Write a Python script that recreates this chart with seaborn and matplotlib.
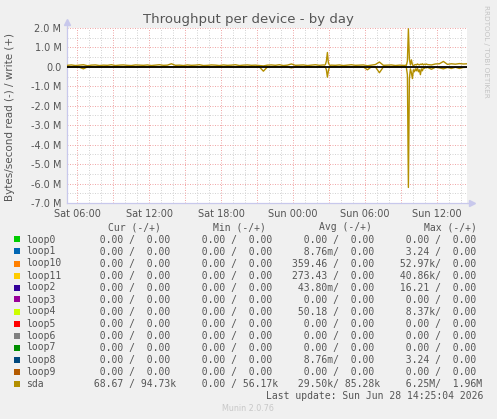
import numpy as np
import pandas as pd
import matplotlib
matplotlib.use("Agg")
import matplotlib.pyplot as plt
import seaborn as sns

# ---------------- data ----------------
# hours since Sat 00:00
# coarse 20-minute samples (k = 0..63, 67..83, 91..100)
base_k = list(range(0, 64)) + list(range(67, 84)) + list(range(91, 101))
base_hours = [5.2 + k / 3 for k in base_k]
base_write_M = [
    0.08, 0.10, 0.07, 0.09, 0.11, 0.06, 0.09, 0.10, 0.07, 0.09,
    0.08, 0.11, 0.07, 0.09, 0.10, 0.08, 0.07, 0.10, 0.09, 0.08,
    0.10, 0.07, 0.09, 0.11, 0.08, 0.09, 0.16, 0.08, 0.09, 0.07,
    0.10, 0.08, 0.09, 0.11, 0.07, 0.08, 0.10, 0.09, 0.07, 0.10,
    0.08, 0.09, 0.11, 0.07, 0.09, 0.10, 0.08, 0.09, 0.07, 0.05,
    0.09, 0.10, 0.08, 0.11, 0.07, 0.09, 0.15, 0.08, 0.09, 0.10,
    0.07, 0.09, 0.11, 0.08,
    0.08, 0.10, 0.07,
    0.09, 0.11, 0.08, 0.09, 0.10, 0.06, 0.09, 0.12, 0.25, 0.08,
    0.09, 0.10, 0.07, 0.09,
    0.10, 0.15, 0.16, 0.28, 0.13, 0.16, 0.14, 0.17, 0.15, 0.16,
]
base_read_M = [
    0.00, 0.00, 0.00, -0.02, -0.10, 0.00, 0.00, 0.00, -0.01, 0.00,
    0.00, 0.00, 0.00, 0.00, 0.00, 0.00, 0.00, 0.00, 0.00, 0.00,
    0.00, 0.00, 0.00, 0.00, 0.00, 0.00, 0.00, 0.00, 0.00, 0.00,
    0.00, 0.00, 0.00, 0.00, 0.00, 0.00, 0.00, 0.00, 0.00, 0.00,
    0.00, 0.00, 0.00, 0.00, 0.00, 0.00, 0.00, 0.00, 0.00, -0.22,
    0.00, 0.00, 0.00, 0.00, 0.00, 0.00, -0.05, 0.00, 0.00, 0.00,
    0.00, 0.00, 0.00, 0.00,
    0.00, 0.00, 0.00,
    0.00, 0.00, 0.00, 0.00, 0.00, -0.15, 0.00, 0.00, -0.30, 0.00,
    0.00, 0.00, 0.00, 0.00,
    -0.12, -0.02, -0.05, -0.10, -0.03, -0.08, -0.02, -0.08, -0.03, -0.02,
]

# 5-minute detail around the Sun ~02:55 burst
burst1_hours = [26.5333 + j / 12 for j in range(9)]
burst1_write_M = [0.10, 0.09, 0.12, 0.30, 0.74, 0.20, 0.10, 0.08, 0.09]
burst1_read_M = [0.00, 0.00, -0.02, -0.15, -0.53, -0.20, -0.02, 0.00, 0.00]

# 5-minute detail around the Sun ~09:40 burst
burst2_hours = [33.2 + j / 12 for j in range(25)]
burst2_write_M = [0.08, 0.07, 0.09, 0.08, 0.30, 1.96, 0.40, 0.10, 0.36, 0.12,
                  0.05, 0.10, 0.12, 0.10, 0.15, 0.12, 0.10, 0.14, 0.12, 0.16,
                  0.10, 0.14, 0.12, 0.15, 0.12]
burst2_read_M = [0.00, 0.00, 0.00, -0.05, -0.40, -6.20, -0.60, -0.10, -0.30, -0.60,
                 -0.15, -0.25, -0.10, -0.20, -0.05, -0.25, -0.15, -0.40, -0.10, -0.20,
                 -0.05, -0.08, -0.02, -0.05, -0.02]

x_tick_hours = [6, 12, 18, 24, 30, 36]
x_tick_labels = ["Sat 06:00", "Sat 12:00", "Sat 18:00", "Sun 00:00", "Sun 06:00", "Sun 12:00"]
y_ticks = [2, 1, 0, -1, -2, -3, -4, -5, -6, -7]
y_tick_labels = ["2.0 M", "1.0 M", "0.0", "-1.0 M", "-2.0 M", "-3.0 M", "-4.0 M",
                 "-5.0 M", "-6.0 M", "-7.0 M"]

devices = ["loop0", "loop1", "loop10", "loop11", "loop2", "loop3", "loop4",
           "loop5", "loop6", "loop7", "loop8", "loop9", "sda"]
device_colors = ["#00CC00", "#0066B3", "#FF8000", "#FFCC00", "#330099", "#990099",
                 "#CCFF00", "#FF0000", "#808080", "#008F00", "#00487D", "#B35A00",
                 "#B38F00"]
cur_vals = ["  0.00 /  0.00 "] * 12 + [" 68.67 / 94.73k"]
min_vals = ["  0.00 /  0.00 "] * 12 + ["  0.00 / 56.17k"]
avg_vals = ["  0.00 /  0.00 ", "  8.76m/  0.00 ", "359.46 /  0.00 ", "273.43 /  0.00 ",
            " 43.80m/  0.00 ", "  0.00 /  0.00 ", " 50.18 /  0.00 ", "  0.00 /  0.00 ",
            "  0.00 /  0.00 ", "  0.00 /  0.00 ", "  8.76m/  0.00 ", "  0.00 /  0.00 ",
            " 29.50k/ 85.28k"]
max_vals = ["  0.00 /  0.00 ", "  3.24 /  0.00 ", " 52.97k/  0.00 ", " 40.86k/  0.00 ",
            " 16.21 /  0.00 ", "  0.00 /  0.00 ", "  8.37k/  0.00 ", "  0.00 /  0.00 ",
            "  0.00 /  0.00 ", "  0.00 /  0.00 ", "  3.24 /  0.00 ", "  0.00 /  0.00 ",
            "  6.25M/  1.96M"]

# ---------------- figure ----------------
W, H = 497, 419
DPI = 100
BG = "#F0F0F0"
TXT = "#555555"

sns.set_style("white")
plt.rcParams["font.family"] = ["DejaVu Sans"]

fig = plt.figure(figsize=(W / DPI, H / DPI), dpi=DPI, facecolor=BG)

def fx(px):
    return px / W

def fy(py):
    return 1 - py / H

L, R, T, B = 67, 467, 28, 203
ax = fig.add_axes([fx(L), fy(B), (R - L) / W, (B - T) / H])
ax.set_facecolor("white")

# grid
for h in range(6, 39):
    if h % 3 == 0:
        ax.axvline(h, color="#F0A8A8", lw=0.72, ls=(0, (1, 1.5)), zorder=1)
    else:
        ax.axvline(h, color="#D4D4D4", lw=0.72, ls=(0, (1, 1.5)), zorder=0.9)
for v in np.arange(-7, 2.01, 0.5):
    if abs(v - round(v)) < 1e-9:
        ax.axhline(v, color="#F0A8A8", lw=0.72, ls=(0, (1, 1.5)), zorder=1)
    else:
        ax.axhline(v, color="#D4D4D4", lw=0.72, ls=(0, (1, 1.5)), zorder=0.9)

all_hours = base_hours + burst1_hours + burst2_hours
all_write = base_write_M + burst1_write_M + burst2_write_M
all_read = base_read_M + burst1_read_M + burst2_read_M
df = pd.DataFrame({
    "hours": all_hours + all_hours,
    "value": all_write + all_read,
    "dir": ["write"] * len(all_hours) + ["read"] * len(all_hours),
}).sort_values(["dir", "hours"])
sns.lineplot(data=df, x="hours", y="value", units="dir", estimator=None, sort=True,
             color="#B38F00", lw=1.0, ax=ax, legend=False, zorder=3)

ax.axhline(0, color="black", lw=1.3, zorder=4)

x0 = (L - 5) / 12
x1 = (R - 5) / 12
ax.set_xlim(x0, x1)
ax.set_ylim(-7.0, 2.0)
ax.set_xticks(x_tick_hours)
ax.set_xticklabels(x_tick_labels)
ax.set_yticks(y_ticks)
ax.set_yticklabels(y_tick_labels)
ax.tick_params(axis="both", labelsize=7, colors=TXT, length=2, width=0.6, pad=2)
ax.tick_params(axis="x", color="#C8C8E8")
ax.tick_params(axis="y", color="#C8C8E8")
ax.set_xlabel("")
ax.set_ylabel("")
for s in ["top", "right"]:
    ax.spines[s].set_visible(False)
for s in ["left", "bottom"]:
    ax.spines[s].set_color("#C8C8EC")
    ax.spines[s].set_linewidth(0.9)
# axis arrows
ax.plot([x0], [2.0 + 0.3], marker="^", ms=4, color="#C8C8EC", clip_on=False, zorder=5)
ax.plot([x1 + 0.45], [-7.0], marker=">", ms=4, color="#C8C8EC", clip_on=False, zorder=5)
ax.plot([x1, x1 + 0.4], [-7.0, -7.0], color="#C8C8EC", lw=0.9, clip_on=False)
ax.plot([x0, x0], [2.0, 2.25], color="#C8C8EC", lw=0.9, clip_on=False)

# title & labels
fig.text(fx(248), fy(19), "Throughput per device - by day", ha="center", va="center",
         fontsize=9.5, color=TXT)
fig.text(fx(10), fy(117), "Bytes/second read (-) / write (+)", rotation=90,
         ha="center", va="center", fontsize=7.5, color=TXT)
fig.text(fx(486), fy(5), "RRDTOOL / TOBI OETIKER", rotation=270, ha="center", va="top",
         fontsize=5.2, color="#C4C4C4")

# legend table
MONO = ["DejaVu Sans Mono"]
FS = 7.05
hdr_y = 227
for label, cx in [("Cur (-/+)", 134), ("Min (-/+)", 239), ("Avg (-/+)", 345), ("Max (-/+)", 450)]:
    fig.text(fx(cx), fy(hdr_y), label, ha="center", va="center", fontsize=FS,
             color=TXT, family=MONO)

for i, dev in enumerate(devices):
    yc = 239.5 + 12 * i
    fig.patches.append(plt.Rectangle((fx(14), fy(yc + 3)), 6 / W, 6 / H,
                                     transform=fig.transFigure, facecolor=device_colors[i],
                                     edgecolor="none", figure=fig))
    fig.text(fx(26.5), fy(yc), dev, ha="left", va="center", fontsize=FS, color=TXT, family=MONO)
    for col_x, vals in [(88, cur_vals), (190, min_vals), (292, avg_vals), (394, max_vals)]:
        fig.text(fx(col_x), fy(yc), vals[i], ha="left", va="center", fontsize=FS,
                 color=TXT, family=MONO)

fig.text(fx(483), fy(395.5), "Last update: Sun Jun 28 14:25:04 2026", ha="right",
         va="center", fontsize=FS, color=TXT, family=MONO)
fig.text(fx(248), fy(408), "Munin 2.0.76", ha="center", va="center", fontsize=5.8,
         color="#C8C8C8")

fig.savefig("out.png", dpi=DPI, facecolor=BG)
